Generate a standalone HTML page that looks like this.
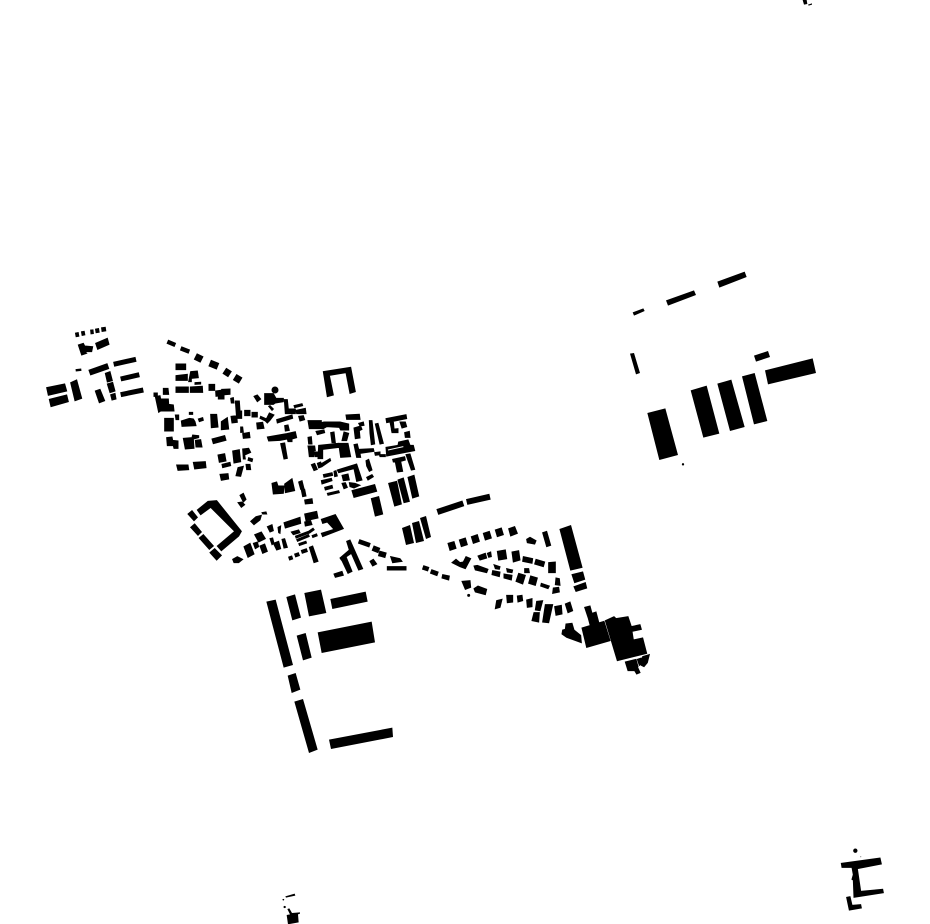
<!DOCTYPE html>
<html><head><meta charset="utf-8"><style>html,body{margin:0;padding:0;background:#fff}svg{display:block}</style></head>
<body>
<svg width="930" height="924" viewBox="0 0 930 924" xmlns="http://www.w3.org/2000/svg">
<rect width="930" height="924" fill="#fff"/>
<g transform="translate(30,310) scale(.33333)" stroke="#000" stroke-width="3">
<path fill="none" stroke="#000" stroke-width="14" d="M136 75L147 73M154 71L165 69M181 66L191 65M196 63L208 61M214 59L228 57"/>
<path fill="none" stroke="#000" stroke-width="7" d="M137 181L154 179"/>
<path fill="none" stroke="#000" stroke-width="18" d="M178 188L235 168"/>
<path fill="none" stroke="#000" stroke-width="15" d="M251 163L318 148M272 207L328 194M272 254L340 240"/>
<path d="M145 105 160 100 164 108 188 110 185 125 165 125 170 130 155 135ZM197 100 232 85 237 103 203 118ZM226 190 240 185 247 212 232 216ZM232 222 248 217 255 243 240 248ZM242 254 255 250 258 267 246 270ZM196 243 210 238 224 272 208 278ZM50 233 104 222 110 243 55 256ZM58 268 110 255 115 275 63 290ZM122 218 140 210 155 265 135 272Z"/>
</g>
<g transform="translate(150,335) scale(.33333)" stroke="#000" stroke-width="3">
<path fill="none" stroke="#000" stroke-width="13" d="M52 20L76 30M92 40L118 50"/>
<path fill="none" stroke="#000" stroke-width="21" d="M136 64L156 74M179 84L204 94M223 107L240 118M254 126L272 137"/>
<path d="M78 87 107 87 107 104 78 104ZM78 122 112 118 112 136 78 136ZM122 110 142 108 145 128 124 130 124 140 116 140ZM78 156 94 156 94 172 78 172ZM97 156 115 156 115 172 97 172ZM121 156 157 154 158 172 121 172ZM135 143 152 142 152 147 135 148ZM177 148 194 148 194 166 177 166ZM197 168 212 166 214 182 198 184ZM215 163 240 162 240 178 215 180ZM205 184 222 182 222 192 205 192ZM242 190 250 188 252 204 244 204ZM256 198 268 198 270 228 275 228 275 250 260 250ZM40 160 54 160 56 178 40 178ZM12 174 22 174 22 184 12 184ZM16 185 30 182 32 192 55 192 56 208 70 210 72 228 32 228 26 232ZM44 250 70 250 70 288 44 288ZM76 240 86 240 86 254 78 254ZM118 232 128 232 128 238 118 238ZM94 258 118 250 130 252 135 260 138 272 96 274ZM145 252 158 248 160 256 148 260ZM182 238 200 238 204 276 184 278ZM214 260 232 248 236 282 214 284ZM243 244 260 242 262 262 246 264ZM50 308 66 306 68 316 84 318 84 340 72 340 70 332 52 332ZM100 310 126 308 128 300 146 302 146 308 130 312 132 340 106 342ZM136 316 152 314 156 336 138 336ZM186 312 224 302 228 316 190 326ZM80 390 114 390 116 404 84 406ZM130 382 166 380 168 398 134 402ZM204 360 224 356 228 378 208 382ZM216 388 240 382 242 392 218 398ZM248 348 268 344 272 380 252 384ZM278 342 296 340 302 352 284 360 286 372 280 372ZM296 368 308 372 306 380 294 376ZM264 398 280 394 272 424 258 422ZM288 388 300 388 302 404 290 404ZM210 418 234 416 236 432 214 436ZM272 276 278 276 280 292 272 292ZM278 296 298 292 300 308 280 310ZM284 226 300 226 300 242 284 242ZM306 232 322 232 322 246 306 246ZM312 184 322 180 332 192 322 200ZM344 176 370 176 378 190 400 190 400 200 376 204 370 208 344 208ZM356 214 360 212 370 222 366 226ZM403 194 412 194 415 222 436 222 436 236 406 236ZM432 212 456 206 458 212 434 218ZM438 226 466 220 468 236 440 236ZM446 244 460 242 464 254 450 258ZM380 254 426 240 428 250 382 264ZM332 244 350 252 346 258 330 250ZM358 234 372 240 360 256 352 264 346 258ZM320 264 338 262 342 280 322 282ZM404 272 414 270 418 286 406 288ZM352 306 410 296 436 290 440 308 426 312 426 320 414 320 412 312 390 316 356 318ZM392 326 404 324 412 370 402 372Z"/>
<circle cx="375" cy="165" r="9"/>
</g>
<g transform="translate(240,360) scale(.33333)" stroke="#000" stroke-width="3">
<path d="M250 35 332 22 346 95 330 100 318 38 268 46 280 105 262 110ZM318 165 358 163 360 178 320 178ZM204 182 244 182 244 188 252 186 300 186 326 192 326 210 302 210 298 202 260 200 250 206 208 206ZM228 214 252 210 254 218 232 224ZM272 218 282 216 286 248 276 248ZM312 216 326 220 320 242 306 242ZM204 232 214 230 216 252 206 252ZM204 258 224 258 226 272 206 272ZM206 272 222 274 222 290 208 290ZM224 276 238 276 238 290 226 290ZM236 256 296 250 298 262 248 268 248 296 234 296ZM296 250 324 250 332 290 302 292ZM214 314 224 310 232 328 222 332ZM232 310 242 306 246 320 236 324ZM242 312 270 296 272 302 246 320ZM342 254 352 252 356 268 400 266 402 274 360 280 362 292 350 292ZM404 278 420 276 420 284 406 286ZM418 284 436 284 436 290 420 290ZM342 204 362 198 366 208 358 212 360 234 346 236ZM356 190 370 186 372 196 360 198ZM388 182 396 182 404 252 394 254 390 220ZM406 192 414 190 430 250 420 252ZM438 176 498 164 500 176 440 188ZM450 186 460 184 462 206 454 206ZM480 186 496 186 500 200 486 204ZM454 208 474 206 474 218 456 218ZM494 218 508 214 510 232 496 232ZM438 262 474 256 476 246 504 240 510 256 520 256 524 272 440 288ZM458 298 494 290 496 300 482 304 488 334 472 336 466 306 460 306ZM498 284 510 282 524 328 514 330ZM292 330 350 312 366 360 350 364 342 326 296 338ZM378 302 386 298 396 330 388 334 380 318ZM380 352 396 344 400 350 384 360ZM250 344 276 338 278 346 252 352ZM282 334 288 332 292 348 284 350ZM244 362 274 355 276 362 246 372ZM306 346 324 342 328 360 310 362ZM306 370 316 368 322 382 312 386ZM328 368 345 370 360 376 342 384 330 380ZM254 382 276 376 278 384 256 390ZM262 400 296 392 298 398 264 406ZM336 392 404 374 410 394 342 412ZM394 416 416 410 428 462 406 468ZM96 370 110 366 114 378 132 378 130 400 100 402ZM134 372 156 356 164 392 136 398ZM176 366 186 362 192 386 182 388ZM184 390 194 388 198 408 188 410ZM194 420 216 416 218 430 196 432ZM446 370 470 364 484 432 464 438ZM474 360 490 354 508 424 492 428ZM504 352 522 346 536 408 518 414Z"/>
<path fill="none" stroke="#fff" stroke-width="3" d="M444 270L490 260"/>
</g>
<g transform="translate(180,490) scale(.33333)" stroke="#000" stroke-width="3">
<path d="M24 72 36 62 52 82 42 92ZM52 60 84 34 110 32 184 124 176 138 124 182 112 168 164 124 92 52 62 74ZM32 112 44 102 64 126 54 136ZM58 144 70 134 100 168 88 178ZM90 188 104 176 124 196 110 210ZM180 16 190 10 198 28 190 36ZM174 38 186 36 194 44 184 52ZM212 94 228 80 244 76 240 90 222 104ZM246 68 258 66 260 72 248 72ZM158 208 172 200 188 208 176 218 162 218ZM192 170 210 160 222 192 204 202ZM220 160 232 156 236 170 226 176ZM224 134 244 126 256 146 236 156ZM240 168 254 162 262 184 248 190ZM262 110 276 104 280 122 270 126ZM270 146 278 144 282 160 276 164ZM294 112 302 108 300 130 296 128ZM312 98 360 82 362 100 316 114ZM280 160 296 154 302 176 290 180ZM306 148 314 146 322 172 312 174ZM374 72 410 64 414 84 378 92ZM374 96 392 92 396 104 376 108ZM334 126 356 120 360 128 340 134ZM424 88 466 74 490 116 428 140 424 130 462 118 442 96 428 100ZM388 172 398 168 414 214 402 218ZM500 154 510 150 548 236 536 240 514 190 484 210 480 204 508 180ZM484 208 498 200 516 244 504 250ZM462 252 486 244 490 256 466 262ZM570 214 580 208 590 222 578 228ZM632 200 660 206 666 214 638 218ZM622 230 678 230 678 240 622 240Z"/>
<path fill="none" stroke="#000" stroke-width="9" d="M346 142L388 126L402 116M350 152L388 136M356 164L380 156M396 140L412 134"/>
<path fill="none" stroke="#000" stroke-width="12" d="M326 206L338 202M344 197L358 192M364 186L382 180"/>
<path fill="none" stroke="#000" stroke-width="14" d="M536 154L570 166"/>
<path fill="none" stroke="#000" stroke-width="17" d="M578 174L598 182M596 190L618 196"/>
</g>
<path d="M402 528 410 525 414 543 406 545ZM412 523 419 521 424 541 416 543ZM420 518 426 516 431 537 426 539Z"/>
<g transform="translate(420,490) scale(.33333)" stroke="#000" stroke-width="3">
<path fill="none" stroke="#000" stroke-width="18" d="M52 66L130 40M140 36L210 20"/>
<path fill="none" stroke="#000" stroke-width="14" d="M8 232L26 238M32 244L54 252"/>
<path d="M84 160 102 155 108 175 90 181ZM118 150 136 144 142 164 124 170ZM154 140 172 134 178 154 160 160ZM190 130 208 124 214 144 196 150ZM226 120 244 114 250 134 232 140ZM266 116 284 110 292 130 272 138ZM320 148 330 142 348 152 344 162 322 158ZM368 128 380 124 392 166 380 170ZM420 118 452 107 486 232 452 240ZM456 254 488 246 494 268 464 278ZM462 290 496 278 500 294 468 304ZM96 218 108 208 120 218 130 216 138 200 152 206 136 236 120 230ZM174 198 196 190 200 204 180 210ZM202 190 212 186 214 200 206 202ZM232 184 256 180 260 206 236 210ZM276 186 296 182 300 210 280 216ZM310 200 338 206 336 220 308 214ZM348 208 374 216 370 230 344 222ZM386 218 406 216 406 248 386 248ZM162 228 172 226 204 238 200 248 166 240ZM222 224 240 230 238 238 226 236ZM218 242 240 246 238 260 216 254ZM260 236 278 240 276 248 262 246ZM252 252 276 256 274 270 252 264ZM296 250 316 256 308 282 288 274ZM314 236 326 236 328 248 314 248ZM332 258 352 264 346 286 326 280ZM364 280 388 288 384 296 362 288ZM408 264 418 266 420 286 406 284ZM400 294 416 292 418 306 398 310ZM68 254 88 258 86 270 66 264ZM126 274 150 272 152 292 136 298ZM162 296 174 288 200 298 196 314 166 306ZM230 332 246 328 240 352 226 356ZM260 316 278 316 278 336 262 338ZM292 318 306 316 308 332 294 336ZM320 330 336 326 336 350 322 352ZM350 334 368 332 360 362 346 360ZM376 344 398 344 386 398 368 396ZM342 368 358 368 356 396 336 392ZM404 350 424 346 426 372 408 376ZM436 342 450 336 458 362 444 368ZM494 352 510 348 516 370 528 366 536 396 510 404 505 385ZM486 414 552 394 570 452 500 472ZM556 392 582 380 588 386 624 380 634 410 660 404 664 418 636 424 640 450 668 444 680 490 592 512ZM616 516 648 508 654 530 640 535 642 542 624 542ZM640 535 652 530 660 548 650 552ZM652 508 664 504 668 520 658 526ZM668 500 688 494 682 518 672 530 664 526 666 512ZM438 402 456 400 462 420 482 436 484 458 440 442 426 432 428 420 436 418Z"/>
<circle cx="146" cy="316" r="3"/>
</g>
<g transform="translate(255,585) scale(.33333)">
<path d="M34 50 62 44 114 240 86 248ZM94 36 120 28 138 98 112 106ZM148 24 198 14 214 84 162 94ZM226 42 332 20 338 50 232 72ZM125 152 152 144 170 218 144 226ZM188 142 350 110 360 172 200 204ZM98 272 122 264 136 314 110 324ZM118 350 144 342 188 494 162 504ZM222 464 412 428 414 456 228 492Z"/>
</g>
<g transform="translate(620,265) scale(.33333)">
<path d="M38 142 70 130 74 138 42 152ZM138 106 222 76 228 90 144 122ZM292 50 374 20 380 36 298 68ZM30 266 42 264 60 324 48 328ZM402 272 444 258 450 276 408 290ZM435 316 578 280 588 324 444 358ZM82 444 136 430 174 570 118 585ZM212 376 260 362 298 506 250 518ZM292 356 334 344 374 486 330 498ZM366 334 404 324 442 468 402 478Z"/>
<circle cx="189" cy="598" r="3.5"/>
</g>
<g transform="translate(830,840) scale(.33333)" stroke="#000" stroke-width="3">
<path d="M34 70 64 66 150 54 154 72 82 86 92 154 158 148 160 158 72 172 70 120 66 118 70 104 66 82 36 82ZM50 172 60 170 66 196 92 194 94 204 58 210Z"/>
<circle cx="76" cy="32" r="5"/>
</g>
<circle cx="860.7" cy="856.7" r=".6" fill="#888"/>
<g transform="translate(270,885) scale(.33333)">
<path d="M46 34 74 26 76 32 48 38ZM50 90 60 88 52 72 58 70 66 84 90 82 90 86 84 88 86 112 54 118Z"/>
<circle cx="40" cy="44" r="2.5"/><circle cx="44" cy="66" r="3.5"/>
</g>
<g transform="translate(790,0) scale(.33333)">
<path d="M38 0 50 0 52 12 42 14ZM54 14 66 10 66 14 56 17Z"/>
</g>
</svg>
</body></html>
